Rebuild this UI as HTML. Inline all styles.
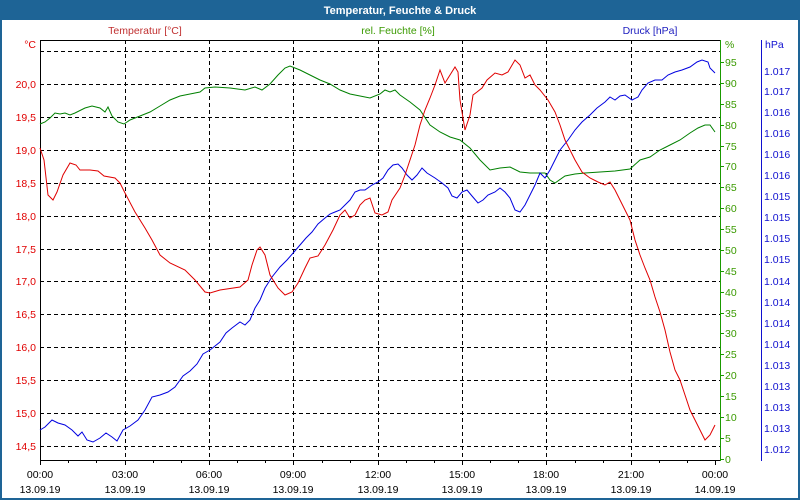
<!DOCTYPE html>
<html><head><meta charset="utf-8"><style>
html,body{margin:0;padding:0;background:#fff}
svg{display:block;font-family:"Liberation Sans",sans-serif}
</style></head><body>
<svg width="800" height="500" viewBox="0 0 800 500" xmlns="http://www.w3.org/2000/svg">
<rect x="0" y="0" width="800" height="500" fill="#1e6496"/>
<rect x="2" y="20" width="796" height="478" fill="#fff"/>
<text x="400" y="14" fill="#fff" font-size="11" font-weight="bold" text-anchor="middle">Temperatur, Feuchte &amp; Druck</text>
<text x="145" y="34" fill="#c03030" font-size="10.5" text-anchor="middle">Temperatur [°C]</text>
<text x="398" y="34" fill="#3a9a00" font-size="10.5" text-anchor="middle">rel. Feuchte [%]</text>
<text x="650" y="34" fill="#2020c0" font-size="10.5" text-anchor="middle">Druck [hPa]</text>
<g stroke="#000" stroke-dasharray="4,3" stroke-width="1">
<line x1="40" x2="720" y1="51.5" y2="51.5"/><line x1="40" x2="720" y1="84.5" y2="84.5"/><line x1="40" x2="720" y1="117.5" y2="117.5"/><line x1="40" x2="720" y1="150.5" y2="150.5"/><line x1="40" x2="720" y1="183.5" y2="183.5"/><line x1="40" x2="720" y1="216.5" y2="216.5"/><line x1="40" x2="720" y1="249.5" y2="249.5"/><line x1="40" x2="720" y1="281.5" y2="281.5"/><line x1="40" x2="720" y1="314.5" y2="314.5"/><line x1="40" x2="720" y1="347.5" y2="347.5"/><line x1="40" x2="720" y1="380.5" y2="380.5"/><line x1="40" x2="720" y1="413.5" y2="413.5"/><line x1="40" x2="720" y1="446.5" y2="446.5"/>
<line y1="40" y2="460" x1="125.5" x2="125.5"/><line y1="40" y2="460" x1="209.5" x2="209.5"/><line y1="40" y2="460" x1="293.5" x2="293.5"/><line y1="40" y2="460" x1="378.5" x2="378.5"/><line y1="40" y2="460" x1="462.5" x2="462.5"/><line y1="40" y2="460" x1="546.5" x2="546.5"/><line y1="40" y2="460" x1="631.5" x2="631.5"/>
</g>
<g stroke="#000" stroke-width="1" fill="none">
<line x1="40.5" y1="40" x2="40.5" y2="461"/><line x1="40" y1="460.5" x2="720" y2="460.5"/><line x1="40" y1="40.5" x2="720" y2="40.5"/>
</g>
<g stroke="#000"><line x1="40.5" x2="40.5" y1="460" y2="465"/><line x1="68.5" x2="68.5" y1="460" y2="463"/><line x1="96.5" x2="96.5" y1="460" y2="463"/><line x1="125.5" x2="125.5" y1="460" y2="465"/><line x1="153.5" x2="153.5" y1="460" y2="463"/><line x1="181.5" x2="181.5" y1="460" y2="463"/><line x1="209.5" x2="209.5" y1="460" y2="465"/><line x1="237.5" x2="237.5" y1="460" y2="463"/><line x1="265.5" x2="265.5" y1="460" y2="463"/><line x1="293.5" x2="293.5" y1="460" y2="465"/><line x1="322.5" x2="322.5" y1="460" y2="463"/><line x1="350.5" x2="350.5" y1="460" y2="463"/><line x1="378.5" x2="378.5" y1="460" y2="465"/><line x1="406.5" x2="406.5" y1="460" y2="463"/><line x1="434.5" x2="434.5" y1="460" y2="463"/><line x1="462.5" x2="462.5" y1="460" y2="465"/><line x1="490.5" x2="490.5" y1="460" y2="463"/><line x1="518.5" x2="518.5" y1="460" y2="463"/><line x1="546.5" x2="546.5" y1="460" y2="465"/><line x1="575.5" x2="575.5" y1="460" y2="463"/><line x1="603.5" x2="603.5" y1="460" y2="463"/><line x1="631.5" x2="631.5" y1="460" y2="465"/><line x1="659.5" x2="659.5" y1="460" y2="463"/><line x1="687.5" x2="687.5" y1="460" y2="463"/><line x1="715.5" x2="715.5" y1="460" y2="465"/></g>
<g fill="#000" font-size="10.5" text-anchor="middle">
<text x="40" y="478">00:00</text><text x="125" y="478">03:00</text><text x="209" y="478">06:00</text><text x="293" y="478">09:00</text><text x="378" y="478">12:00</text><text x="462" y="478">15:00</text><text x="546" y="478">18:00</text><text x="631" y="478">21:00</text><text x="715" y="478">00:00</text>
<text x="40" y="493">13.09.19</text><text x="125" y="493">13.09.19</text><text x="209" y="493">13.09.19</text><text x="293" y="493">13.09.19</text><text x="378" y="493">13.09.19</text><text x="462" y="493">13.09.19</text><text x="546" y="493">13.09.19</text><text x="631" y="493">13.09.19</text><text x="715" y="493">14.09.19</text>
</g>
<g fill="#e00000" font-size="10.5" text-anchor="end">
<text x="36" y="48">°C</text><text x="36" y="88">20,0</text><text x="36" y="121">19,5</text><text x="36" y="154">19,0</text><text x="36" y="187">18,5</text><text x="36" y="220">18,0</text><text x="36" y="253">17,5</text><text x="36" y="285">17,0</text><text x="36" y="318">16,5</text><text x="36" y="351">16,0</text><text x="36" y="384">15,5</text><text x="36" y="417">15,0</text><text x="36" y="450">14,5</text>
</g>
<line x1="720.5" y1="40" x2="720.5" y2="461" stroke="#1a9a00"/>
<g stroke="#1a9a00"><line x1="720" x2="724" y1="62.5" y2="62.5"/><line x1="720" x2="724" y1="83.5" y2="83.5"/><line x1="720" x2="724" y1="104.5" y2="104.5"/><line x1="720" x2="724" y1="125.5" y2="125.5"/><line x1="720" x2="724" y1="146.5" y2="146.5"/><line x1="720" x2="724" y1="166.5" y2="166.5"/><line x1="720" x2="724" y1="187.5" y2="187.5"/><line x1="720" x2="724" y1="208.5" y2="208.5"/><line x1="720" x2="724" y1="229.5" y2="229.5"/><line x1="720" x2="724" y1="250.5" y2="250.5"/><line x1="720" x2="724" y1="271.5" y2="271.5"/><line x1="720" x2="724" y1="292.5" y2="292.5"/><line x1="720" x2="724" y1="313.5" y2="313.5"/><line x1="720" x2="724" y1="333.5" y2="333.5"/><line x1="720" x2="724" y1="354.5" y2="354.5"/><line x1="720" x2="724" y1="375.5" y2="375.5"/><line x1="720" x2="724" y1="396.5" y2="396.5"/><line x1="720" x2="724" y1="417.5" y2="417.5"/><line x1="720" x2="724" y1="438.5" y2="438.5"/><line x1="720" x2="724" y1="459.5" y2="459.5"/></g>
<g fill="#3a9a00" font-size="10.5">
<text x="725" y="48">%</text><text x="725" y="66">95</text><text x="725" y="87">90</text><text x="725" y="108">85</text><text x="725" y="129">80</text><text x="725" y="150">75</text><text x="725" y="170">70</text><text x="725" y="191">65</text><text x="725" y="212">60</text><text x="725" y="233">55</text><text x="725" y="254">50</text><text x="725" y="275">45</text><text x="725" y="296">40</text><text x="725" y="317">35</text><text x="725" y="337">30</text><text x="725" y="358">25</text><text x="725" y="379">20</text><text x="725" y="400">15</text><text x="725" y="421">10</text><text x="725" y="442">5</text><text x="725" y="463">0</text>
</g>
<line x1="761.5" y1="40" x2="761.5" y2="461" stroke="#1010d0"/>
<g fill="#1010d0" font-size="10.5">
<text x="765" y="48">hPa</text>
<text x="764" y="75">1.017</text><text x="764" y="95">1.017</text><text x="764" y="116">1.016</text><text x="764" y="137">1.016</text><text x="764" y="158">1.016</text><text x="764" y="179">1.016</text><text x="764" y="200">1.015</text><text x="764" y="221">1.015</text><text x="764" y="242">1.015</text><text x="764" y="263">1.015</text><text x="764" y="285">1.014</text><text x="764" y="306">1.014</text><text x="764" y="327">1.014</text><text x="764" y="348">1.014</text><text x="764" y="369">1.013</text><text x="764" y="390">1.013</text><text x="764" y="411">1.013</text><text x="764" y="432">1.013</text><text x="764" y="453">1.012</text>
</g>
<g fill="none" stroke-width="1">
<polyline stroke="#008000" points="40,124 45,122 50,118 55,113 60,114 65,113 70,115 75,113 85,108 92,106 100,108 105,112 108,107 112,116 118,122 124,124 130,120 140,116 150,112 160,106 170,100 180,96 190,94 200,92 205,88 215,87 230,88 245,90 255,87 262,90 270,84 278,75 285,68 290,66 300,70 310,75 320,80 330,84 340,90 350,94 360,96 370,98 380,94 385,90 390,92 395,90 400,95 410,102 420,110 430,125 440,132 450,137 460,140 470,148 480,160 490,170 500,168 510,167 520,172 530,173 545,173 550,180 555,183 565,176 575,174 585,173 600,172 615,171 630,169 640,160 650,157 660,150 670,145 680,140 690,133 698,128 705,125 710,125 715,132"/>
<polyline stroke="#0000e0" points="40,430 45,427 52,420 58,423 65,425 72,430 78,436 82,432 87,440 93,442 100,438 106,433 112,437 117,441 123,430 130,426 138,420 145,410 152,397 160,395 168,392 175,387 183,376 190,371 197,364 203,354 210,350 215,346 220,342 226,333 232,328 240,322 245,325 250,320 255,308 260,300 265,288 272,277 280,267 287,260 294,252 300,245 306,238 312,232 318,224 325,218 330,214 335,212 340,210 345,205 350,200 355,192 360,190 365,190 372,185 378,182 383,178 388,170 393,165 398,164 402,168 407,175 412,180 417,175 422,168 427,173 435,178 442,183 448,188 452,196 457,198 462,192 467,190 472,196 478,203 483,200 488,195 495,192 500,188 505,192 510,198 515,210 520,212 525,205 530,195 535,185 540,173 545,178 550,170 555,160 560,150 568,140 575,130 582,122 590,115 597,108 605,102 610,97 615,100 620,96 625,95 632,100 638,97 642,90 648,83 655,80 662,80 668,75 675,72 682,70 690,67 697,62 702,60 708,62 710,68 715,73"/>
<polyline stroke="#e00000" points="40,148 44,160 48,195 53,200 57,192 63,175 70,163 76,165 80,170 90,170 98,171 104,176 115,178 120,183 125,193 135,212 145,228 152,240 160,255 170,263 185,270 195,280 205,292 210,293 220,290 240,287 248,280 252,265 257,250 260,247 265,255 270,275 278,288 285,295 292,292 298,283 305,268 310,258 318,256 325,245 333,230 340,215 345,210 350,218 355,215 360,205 365,200 370,198 375,213 382,215 388,212 392,200 400,188 405,175 410,160 415,145 420,125 425,110 430,98 435,85 440,70 445,83 450,75 455,67 458,72 460,100 465,130 470,115 473,95 477,92 482,88 487,80 495,73 502,75 508,72 515,60 520,65 525,78 530,75 535,85 540,90 548,100 555,112 560,125 565,140 570,150 575,160 582,172 590,178 598,182 605,185 610,182 615,190 620,200 625,210 630,220 635,240 640,255 645,268 650,280 655,297 660,312 665,330 670,352 675,370 680,380 685,395 690,410 695,420 700,430 705,440 710,435 715,425"/>
</g>
</svg>
</body></html>
